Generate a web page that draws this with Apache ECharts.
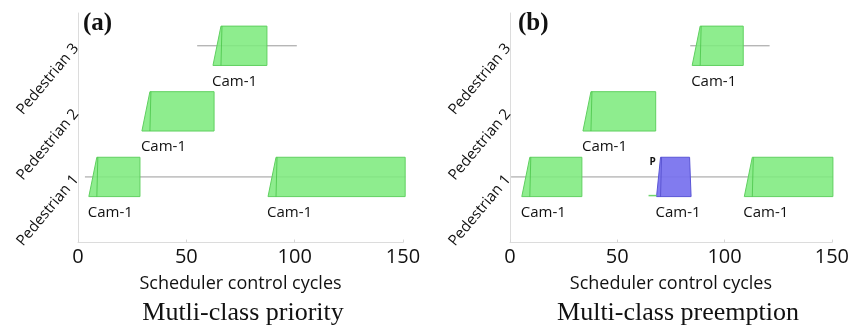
<!DOCTYPE html>
<html>
<head>
<meta charset="utf-8">
<script src="https://cdn.jsdelivr.net/npm/echarts@6/dist/echarts.min.js"></script>
<style>
  html, body { margin: 0; padding: 0; background: #fff; }
  #chart { width: 852px; height: 330px; }
</style>
</head>
<body>
<div id="chart"></div>
<script>
// Rows of the schedule (y = 1, 2, 3) and the x tick values
const pedestrians = ['Pedestrian 1', 'Pedestrian 2', 'Pedestrian 3'];
const xTicks = [0, 50, 100, 150];

// Camera jobs: [row, start cycle, end cycle, camera, kind]
const priorityJobs = [
  [1, 5, 28.6, 'Cam-1', 'normal'],
  [1, 87.7, 151, 'Cam-1', 'normal'],
  [2, 29.5, 62.8, 'Cam-1', 'normal'],
  [3, 62.3, 87.2, 'Cam-1', 'normal']
];
const preemptionJobs = [
  [1, 5.5, 33.5, 'Cam-1', 'normal'],
  [1, 68.3, 84.4, 'Cam-1', 'preempt'],
  [1, 109.2, 150.5, 'Cam-1', 'normal'],
  [2, 34, 67.9, 'Cam-1', 'normal'],
  [3, 84.9, 108.7, 'Cam-1', 'normal']
];

// Pedestrian tracking spans: [row, from cycle, to cycle]
const priorityTracks = [
  [1, 3.2, 151],
  [3, 55, 101]
];
const preemptionTracks = [
  [1, 0.5, 150.5],
  [3, 84, 121]
];

const panelTags = ['(a)', '(b)'];
const panelTitles = ['Mutli-class priority', 'Multi-class preemption'];
const xName = 'Scheduler control cycles';

const SANS = '"Open Sans", "Noto Sans", sans-serif';
const SERIF = '"Liberation Serif", "DejaVu Serif", serif';

const styles = {
  normal: { fill: 'rgba(126,234,126,0.88)', stroke: '#60d060', edge: '#3fbf3f', slantL: 8, slantR: 0 },
  preempt: { fill: 'rgba(118,112,238,0.92)', stroke: '#5a55d6', edge: '#4a44c8', slantL: 4, slantR: 1.5 }
};

function jobRenderer(jobs) {
  return function (params, api) {
    const job = jobs[params.dataIndex];
    const st = styles[job[4]];
    const bl = api.coord([job[1], job[0]]);
    const br = api.coord([job[2], job[0]]);
    const h = api.size([0, 1])[1] * 0.6;
    const yb = bl[1] + h / 2, yt = bl[1] - h / 2;
    const x0 = bl[0], x1 = br[0];
    const children = [
      {
        type: 'polygon',
        shape: { points: [[x0, yb], [x0 + st.slantL, yt], [x1 - st.slantR, yt], [x1, yb]] },
        style: { fill: st.fill, stroke: st.stroke, lineWidth: 1 }
      },
      {
        type: 'line',
        shape: { x1: x0 + st.slantL + 1, y1: yt, x2: x0 + st.slantL, y2: yb },
        style: { stroke: st.edge, lineWidth: 1, opacity: 0.7 }
      },
      {
        type: 'text',
        style: {
          text: job[3], x: x0 - 1, y: yb + 16,
          align: 'left', verticalAlign: 'middle',
          font: '15px ' + SANS, fill: '#111'
        }
      }
    ];
    if (job[4] === 'preempt') {
      children.push({
        type: 'text',
        style: {
          text: 'P', x: x0 - 4, y: yt + 5,
          align: 'center', verticalAlign: 'middle',
          font: 'bold 10px ' + SANS, fill: '#111'
        }
      });
      children.push({
        type: 'line',
        shape: { x1: x0 - 8, y1: yb - 1, x2: x0, y2: yb - 1 },
        style: { stroke: '#6fd66f', lineWidth: 1.5 }
      });
    }
    return { type: 'group', children: children };
  };
}

function trackRenderer(tracks) {
  return function (params, api) {
    const t = tracks[params.dataIndex];
    const a = api.coord([t[1], t[0]]);
    const b = api.coord([t[2], t[0]]);
    return {
      type: 'line',
      shape: { x1: a[0], y1: a[1], x2: b[0], y2: b[1] },
      style: { stroke: '#9a9a9a', lineWidth: 1 }
    };
  };
}

function makeX(idx) {
  return {
    type: 'value', gridIndex: idx,
    min: xTicks[0], max: xTicks[xTicks.length - 1], interval: xTicks[1] - xTicks[0],
    name: xName, nameLocation: 'middle', nameGap: 32,
    nameTextStyle: { fontFamily: SANS, fontSize: 18, color: '#111' },
    axisLine: { lineStyle: { color: '#dcdcdc', width: 1 } },
    axisTick: { show: true, inside: true, length: 3, lineStyle: { color: '#d6d6d6' } },
    axisLabel: { fontFamily: SANS, fontSize: 20, color: '#111', margin: 5 },
    splitLine: { show: false }
  };
}

function makeY(idx) {
  return {
    type: 'value', gridIndex: idx, min: 0, max: 3.5, interval: 1,
    axisLine: { show: true, lineStyle: { color: '#dcdcdc', width: 1 } },
    axisTick: { show: false },
    splitLine: { show: false },
    axisLabel: {
      rotate: 50, margin: 2,
      fontFamily: SANS, fontSize: 15, color: '#111',
      formatter: function (v) {
        return Number.isInteger(v) && v >= 1 ? pedestrians[v - 1] : '';
      }
    }
  };
}

const chart = echarts.init(document.getElementById('chart'), null, { renderer: 'canvas' });

chart.setOption({
  backgroundColor: '#fff',
  animation: false,
  grid: [
    { left: 78, top: 13, width: 325, height: 229.5 },
    { left: 510, top: 13, width: 327, height: 229.5 }
  ],
  xAxis: [makeX(0), makeX(1)],
  yAxis: [makeY(0), makeY(1)],
  series: [
    { type: 'custom', xAxisIndex: 0, yAxisIndex: 0, renderItem: trackRenderer(priorityTracks), data: priorityTracks.map(function (t) { return [t[1], t[0], t[2]]; }), z: 1 },
    { type: 'custom', xAxisIndex: 0, yAxisIndex: 0, renderItem: jobRenderer(priorityJobs), data: priorityJobs.map(function (j) { return [j[1], j[0], j[2]]; }), z: 2 },
    { type: 'custom', xAxisIndex: 1, yAxisIndex: 1, renderItem: trackRenderer(preemptionTracks), data: preemptionTracks.map(function (t) { return [t[1], t[0], t[2]]; }), z: 1 },
    { type: 'custom', xAxisIndex: 1, yAxisIndex: 1, renderItem: jobRenderer(preemptionJobs), data: preemptionJobs.map(function (j) { return [j[1], j[0], j[2]]; }), z: 2 }
  ],
  graphic: [
    { type: 'text', left: 83, top: 11, style: { text: panelTags[0], font: 'bold 25px ' + SERIF, fill: '#111' } },
    { type: 'text', left: 518, top: 11, style: { text: panelTags[1], font: 'bold 25px ' + SERIF, fill: '#111' } },
    { type: 'text', x: 243, y: 313, style: { text: panelTitles[0], font: '26px ' + SERIF, fill: '#111', align: 'center', verticalAlign: 'middle' } },
    { type: 'text', x: 678, y: 313, style: { text: panelTitles[1], font: '26px ' + SERIF, fill: '#111', align: 'center', verticalAlign: 'middle' } }
  ]
});
</script>
</body>
</html>
